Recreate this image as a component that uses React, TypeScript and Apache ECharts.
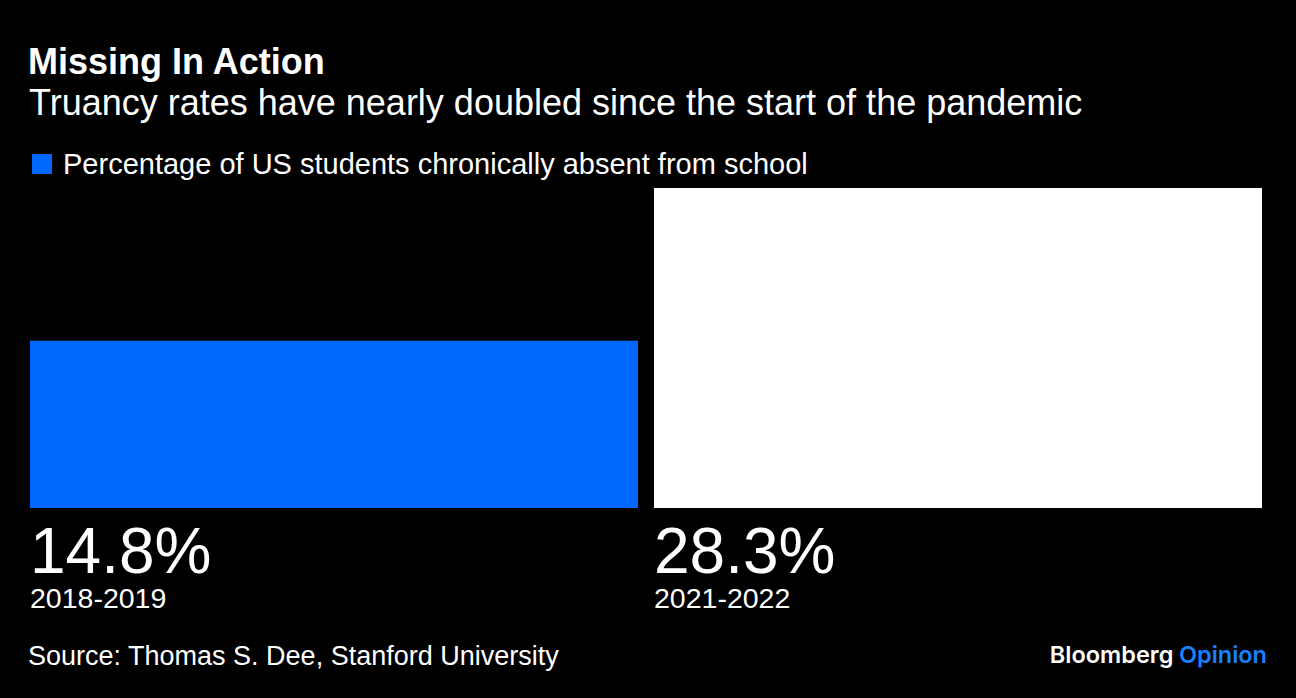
import React, { useEffect, useRef } from "react";
import * as echarts from "echarts";

const categories = ["2018-2019", "2021-2022"];
const values = [14.8, 28.3];
const barColors = ["#0068ff", "#ffffff"];
const seriesName = "Percentage of US students chronically absent from school";
const titleText = "Missing In Action";
const subtitleText = "Truancy rates have nearly doubled since the start of the pandemic";
const sourceText = "Source: Thomas S. Dee, Stanford University";

const FONT = "'Liberation Sans', Arial, Helvetica, sans-serif";
const LOGO_FONT = "Inter, 'Noto Sans', sans-serif";

export default function App() {
  const ref = useRef<HTMLDivElement>(null);
  useEffect(() => {
    document.body.style.margin = "0";
    document.body.style.background = "#000000";
    if (!ref.current) return;
    const chart = echarts.init(ref.current, null, { renderer: "svg" });
    chart.setOption({
      animation: false,
      backgroundColor: "#000000",
      title: [
        {
          text: titleText,
          left: 28,
          top: 43.5,
          padding: 0,
          textStyle: { color: "#ffffff", fontSize: 36, fontWeight: "bold", fontFamily: FONT },
        },
        {
          text: subtitleText,
          left: 29,
          top: 84.5,
          padding: 0,
          textStyle: { color: "#ffffff", fontSize: 36, fontWeight: "normal", fontFamily: FONT },
        },
        {
          text: sourceText,
          left: 28,
          top: 642,
          padding: 0,
          textStyle: { color: "#ffffff", fontSize: 27, fontWeight: "normal", fontFamily: FONT },
        },
        {
          text: "{b|Bloomberg} {o|Opinion}",
          right: 29,
          top: 642,
          padding: 0,
          textStyle: {
            fontFamily: LOGO_FONT,
            fontSize: 23.5,
            rich: {
              b: { color: "#ffffff", fontSize: 23.5, fontWeight: 600, fontFamily: LOGO_FONT, lineHeight: 23.5 },
              o: { color: "#1a80ff", fontSize: 23.5, fontWeight: 600, fontFamily: LOGO_FONT, lineHeight: 23.5 },
            },
          },
        },
      ],
      legend: {
        left: 32,
        top: 149.5,
        padding: 0,
        itemWidth: 20,
        itemHeight: 20,
        icon: "rect",
        data: [seriesName],
        textStyle: { color: "#ffffff", fontSize: 29, fontFamily: FONT, padding: [0, 0, 0, 6] },
      },
      grid: { left: 22, right: 26, top: 188, bottom: 190, containLabel: false },
      xAxis: {
        type: "category",
        data: categories,
        axisLine: { show: false },
        axisTick: { show: false },
        axisLabel: { show: false },
        splitLine: { show: false },
      },
      yAxis: {
        type: "value",
        min: 0,
        max: 28.3,
        show: false,
        splitLine: { show: false },
      },
      series: [
        {
          name: seriesName,
          type: "bar",
          barWidth: 608,
          itemStyle: { color: barColors[0] },
          data: values.map((v, i) => ({ value: v, itemStyle: { color: barColors[i] } })),
          label: {
            show: true,
            position: [0, "100%"],
            offset: [0, 10],
            align: "left",
            verticalAlign: "top",
            formatter: (p: any) => `{v|${p.value}%}\n{y|${p.name}}`,
            rich: {
              v: { color: "#ffffff", fontSize: 64, fontFamily: FONT, lineHeight: 65 },
              y: { color: "#ffffff", fontSize: 28.5, fontFamily: FONT, lineHeight: 29 },
            },
          },
        },
      ],
    });
    return () => chart.dispose();
  }, []);
  return <div ref={ref} style={{ width: 1296, height: 698 }} />;
}
